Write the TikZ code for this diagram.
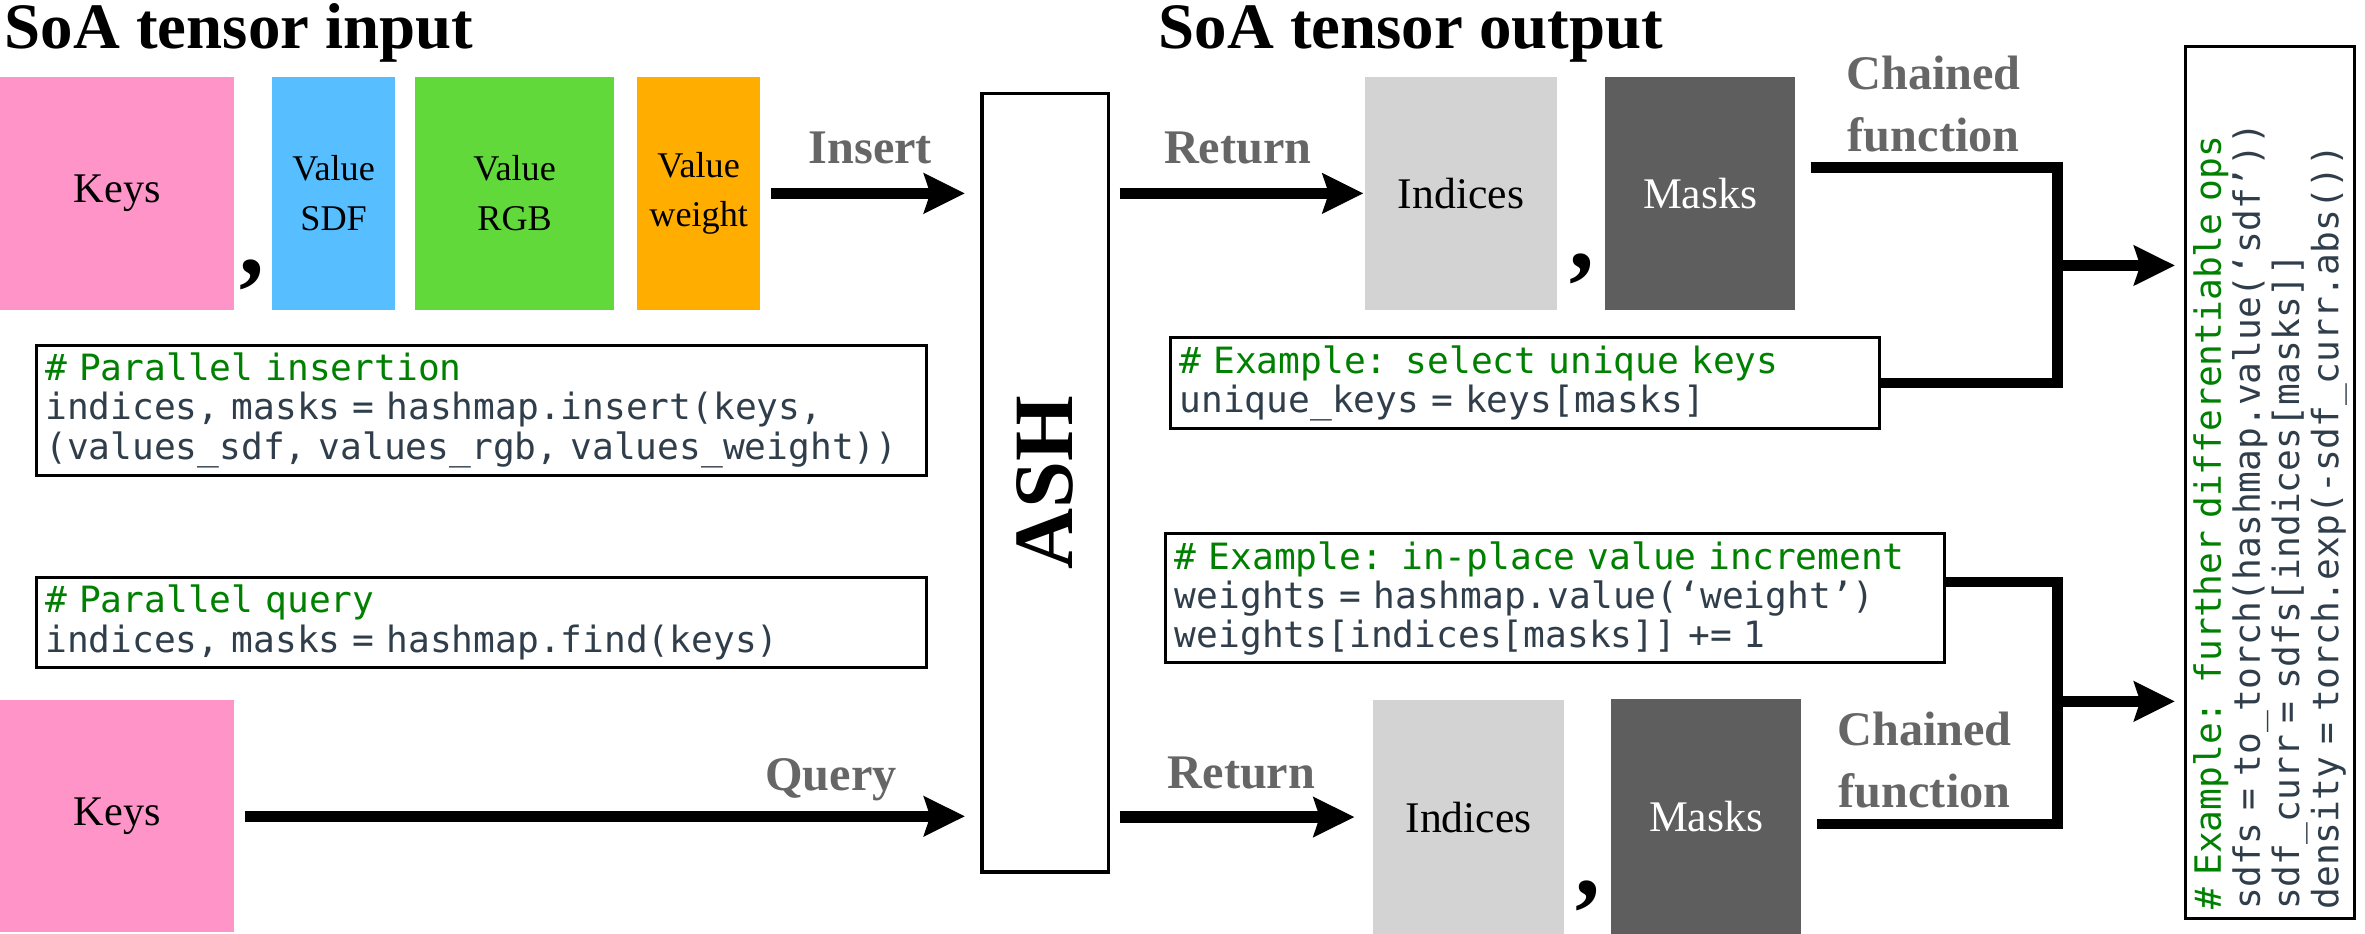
\documentclass[tikz,border=0pt]{standalone}
\usepackage{fontspec}
\usepackage{tikz}
\usetikzlibrary{positioning, arrows.meta}
\newfontfamily\codefont{DejaVu Sans Mono}
\newfontfamily\serifface{Liberation Serif}
\newcommand\serfont[2]{\serifface\fontsize{#1}{#2}\selectfont}
\definecolor{KeyPink}{RGB}{255, 148, 201}
\definecolor{SdfBlue}{RGB}{87, 191, 255}
\definecolor{RgbGreen}{RGB}{98, 217, 58}
\definecolor{WeightOrange}{RGB}{255, 174, 0}
\definecolor{IdxGrey}{RGB}{211, 211, 211}
\definecolor{MaskGrey}{RGB}{94, 94, 94}
\definecolor{LabelGrey}{RGB}{102, 102, 102}
\definecolor{CodeSlate}{RGB}{47, 62, 74}
\definecolor{CodeGreen}{RGB}{0, 128, 0}
\newcommand\cmt[1]{\textcolor{CodeGreen}{#1}}
\tikzset{
  tensor/.style={inner sep=0pt, align=center, minimum height=154pt, anchor=north west},
  keybox/.style={tensor, fill=KeyPink, minimum width=155pt, font=\serfont{28}{32}},
  valbox/.style={tensor, font=\serfont{24}{33}},
  outbox/.style={tensor, minimum width=127pt, font=\serfont{29}{33}},
  flow/.style={line width=7.5pt, -{Stealth[length=27pt, width=26pt, inset=4pt]}},
  chain/.style={line width=7pt},
  lbl/.style={font=\serfont{32}{41}\bfseries, text=LabelGrey, inner sep=0pt},
  code/.style={draw, line width=2pt, inner xsep=6pt, inner ysep=5pt, align=left,
    font=\codefont\fontsize{24}{26}\selectfont, text=CodeSlate, anchor=north west},
  sep/.style={font=\serfont{66}{66}\bfseries, inner sep=0pt, anchor=base}
}

\begin{document}
\begin{tikzpicture}[x=1pt, y=-1pt]
    \useasboundingbox (0,0) rectangle (1568,619);

    % Titles
    \node[anchor=base west, inner sep=0pt, font=\serfont{43}{50}\bfseries] (titleIn) at (3,32) {SoA tensor input};
    \node[anchor=base west, inner sep=0pt, font=\serfont{43}{50}\bfseries] (titleOut) at (768,32) {SoA tensor output};

    % Input tensors
    \node[keybox] (keysIn) at (0,51) {Keys};
    \node[sep] (commaA) at (167,182) {,};
    \node[valbox, fill=SdfBlue, minimum width=82pt] (valSdf) at (180,51) {Value\\SDF};
    \node[valbox, fill=RgbGreen, minimum width=132pt] (valRgb) at (275,51) {Value\\RGB};
    \node[valbox, fill=WeightOrange, minimum width=82pt] (valWgt) at (422,51) {Value\\weight};
    \node[keybox] (keysQ) at (0,464) {Keys};

    % Hash map
    \node[draw, line width=2.5pt, minimum width=84pt, minimum height=516pt, inner sep=0pt,
      font=\serfont{56}{60}\bfseries] (ash) at (693,320) {\rotatebox{90}{ASH}};

    % Output tensors
    \node[outbox, fill=IdxGrey] (idxTop) at (905,51) {Indices};
    \node[sep] (commaB) at (1049,178) {,};
    \node[outbox, fill=MaskGrey, text=white, minimum width=126pt] (mskTop) at (1064,51) {Masks};
    \node[outbox, fill=IdxGrey, minimum height=155pt] (idxBot) at (910,464) {Indices};
    \node[sep] (commaC) at (1053,594) {,};
    \node[outbox, fill=MaskGrey, text=white, minimum width=126pt, minimum height=156pt] (mskBot) at (1068,463) {Masks};

    % Code snippets
    \node[code, text width=578pt] (codeIns) at (23,228) {\cmt{\# Parallel insertion}\\
      indices, masks = hashmap.insert(keys,\\
      (values\_sdf, values\_rgb, values\_weight))};
    \node[code, text width=578pt] (codeQry) at (23,382) {\cmt{\# Parallel query}\\
      indices, masks = hashmap.find(keys)};
    \node[code, text width=458pt] (codeUniq) at (775,223) {\cmt{\# Example: select unique keys}\\
      unique\_keys = keys[masks]};
    \node[code, text width=504pt] (codeInc) at (772,353) {\cmt{\# Example: in-place value increment}\\
      weights = hashmap.value(‘weight’)\\
      weights[indices[masks]] += 1};
    \node[code, text width=566pt, rotate=90, anchor=north] (codeOps) at (1448,320) {\cmt{\# Example: further differentiable ops}\\
      sdfs = to\_torch(hashmap.value(‘sdf’))\\
      sdf\_curr = sdfs[indices[masks]]\\
      density = torch.exp(-sdf\_curr.abs())};

    % Insert / query
    \draw[flow, shorten <=7pt, shorten >=10pt] (valWgt.east) -- (valWgt.east -| ash.west)
      node[lbl, midway, anchor=base, yshift=20pt] (lblInsert) {Insert};
    \draw[flow, shorten <=7pt, shorten >=10pt] (keysQ.east) -- (keysQ.east -| ash.west)
      node[lbl, pos=0.8, anchor=base, yshift=17pt] (lblQuery) {Query};

    % Return
    \draw[flow, shorten <=6pt, shorten >=1pt] (ash.east |- idxTop.west) -- (idxTop.west)
      node[lbl, midway, anchor=base, yshift=20pt] (lblRetTop) {Return};
    \draw[flow, shorten <=6pt, shorten >=12pt] (ash.east |- idxBot.west) -- (idxBot.west)
      node[lbl, midway, anchor=base, yshift=19pt] (lblRetBot) {Return};

    % Chained functions
    \node[lbl, align=center] (chainTop) at (1282,69) {Chained\\function};
    \node[lbl, align=center] (chainBot) at (1276,504) {Chained\\function};
    \coordinate (jTop) at (1364,176);
    \coordinate (jBot) at (1364,465);
    \draw[chain] ([xshift=10pt, yshift=17pt]mskTop.east) -| (jTop) |- (codeUniq.east);
    \draw[chain] ([yshift=11pt]codeInc.east) -| (jBot) |- ([xshift=10pt, yshift=-5pt]mskBot.east);
    \draw[flow, shorten >=6pt] (jTop) -- (codeOps.north |- jTop);
    \draw[flow, shorten >=6pt] (jBot) -- (codeOps.north |- jBot);
\end{tikzpicture}
\end{document}
